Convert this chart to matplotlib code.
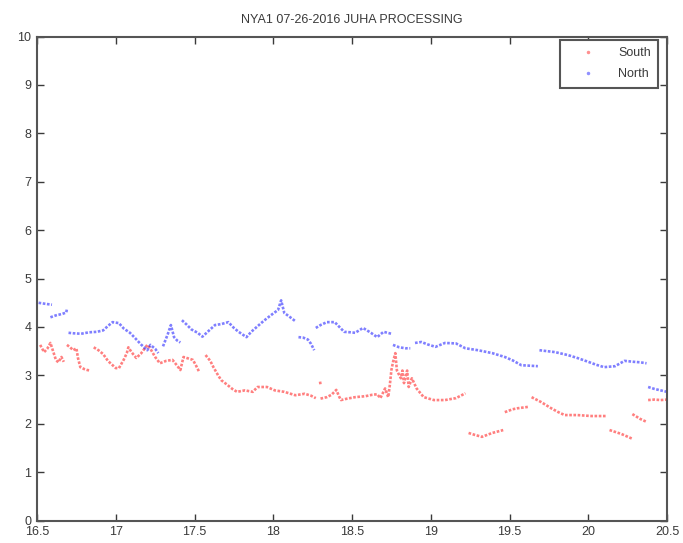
import numpy as np
import matplotlib
matplotlib.use("Agg")
import matplotlib.pyplot as plt

nan = np.nan

## North (blue) - nan marks a gap between runs of points
north_t = [16.51, 16.55, 16.595, nan,
           16.585, 16.62, 16.66, 16.686, 16.69, nan,
           16.70, 16.73, 16.78, 16.83, 16.88, 16.92, 16.95, 16.98, 17.02, 17.05, 17.09,
           17.12, 17.16, 17.20, 17.22, 17.25, 17.27, nan,
           17.30, 17.33, 17.35, 17.37, 17.39, 17.41, nan,
           17.42, 17.45, 17.48, 17.52, 17.55, 17.59, 17.63, 17.67, 17.715, 17.75, 17.78,
           17.83, 17.86, 17.895, 17.93, 17.96, 18.00, 18.03, 18.05, 18.07, 18.10, 18.14, nan,
           18.16, 18.19, 18.22, 18.24, 18.26, nan,
           18.27, 18.30, 18.34, 18.39, 18.42, 18.45, 18.49, 18.52, 18.57, 18.62, 18.66,
           18.70, 18.75, nan,
           18.76, 18.80, 18.84, 18.87, nan,
           18.88, nan,
           18.90, 18.94, 18.98, 19.03, 19.09, 19.16, 19.22, 19.30, 19.39, 19.47, 19.52,
           19.575, 19.63, 19.68, nan,
           19.69, 19.74, 19.79, 19.87, 19.93, 20.00, 20.05, 20.10, 20.17, 20.23, 20.29,
           20.33, 20.37, nan,
           20.38, 20.42, 20.46, 20.50]
north_v = [4.50, 4.48, 4.46, nan,
           4.20, 4.24, 4.27, 4.30, 4.38, nan,
           3.88, 3.87, 3.86, 3.89, 3.90, 3.93, 4.02, 4.10, 4.08, 3.97, 3.88,
           3.78, 3.64, 3.52, 3.63, 3.55, 3.46, nan,
           3.60, 3.85, 4.04, 3.79, 3.72, 3.68, nan,
           4.14, 4.05, 3.95, 3.88, 3.80, 3.92, 4.04, 4.06, 4.10, 3.98, 3.90,
           3.79, 3.90, 4.00, 4.10, 4.18, 4.28, 4.35, 4.55, 4.29, 4.22, 4.12, nan,
           3.79, 3.78, 3.74, 3.65, 3.52, nan,
           3.98, 4.04, 4.10, 4.10, 4.00, 3.90, 3.89, 3.88, 3.98, 3.88, 3.79,
           3.90, 3.86, nan,
           3.63, 3.58, 3.56, 3.56, nan,
           3.79, nan,
           3.67, 3.69, 3.64, 3.59, 3.67, 3.66, 3.56, 3.52, 3.46, 3.38, 3.31,
           3.21, 3.20, 3.19, nan,
           3.52, 3.50, 3.48, 3.42, 3.36, 3.28, 3.22, 3.17, 3.19, 3.30, 3.28,
           3.27, 3.25, nan,
           2.76, 2.72, 2.69, 2.66]

## South (red)
south_t = [16.51, nan,
           16.52, 16.545, 16.565, 16.585, 16.60, 16.62, 16.635, 16.655, 16.67, nan,
           16.69, 16.71, 16.73, 16.75, 16.76, 16.775, 16.80, 16.82, 16.84, nan,
           16.84, nan,
           16.86, 16.89, 16.92, 16.95, 16.98, 17.00, 17.02, 17.05, 17.07, 17.08, 17.10,
           17.13, 17.16, 17.20, 17.22, 17.25, 17.28, 17.32, 17.36, 17.39, 17.41, 17.43,
           17.46, 17.49, 17.51, 17.53, nan,
           17.57, 17.60, 17.62, 17.65, 17.67, 17.71, 17.74, 17.77, 17.82, 17.87, 17.90,
           17.96, 18.01, 18.07, 18.14, 18.20, 18.24, 18.27, nan,
           18.29, 18.31, nan,
           18.30, 18.34, 18.37, 18.40, 18.42, 18.43, 18.47, 18.52, 18.585, 18.63, 18.66,
           18.68, 18.71, 18.73, 18.74, 18.75, 18.76, 18.775, 18.785, 18.81, 18.82, 18.83,
           18.85, 18.86, 18.88, 18.91, 18.955, 19.02, 19.09, 19.16, 19.22, nan,
           19.24, 19.28, 19.325, 19.39, 19.46, nan,
           19.47, 19.52, 19.55, 19.62, nan,
           19.64, 19.70, 19.765, 19.81, 19.85, 19.93, 20.02, 20.11, nan,
           20.135, 20.21, 20.28, nan,
           20.28, 20.33, 20.37, nan,
           20.38, 20.42, 20.46, 20.50]
south_v = [3.96, nan,
           3.63, 3.48, 3.55, 3.67, 3.52, 3.32, 3.27, 3.38, 3.28, nan,
           3.63, 3.58, 3.52, 3.56, 3.36, 3.17, 3.13, 3.11, 3.10, nan,
           2.39, nan,
           3.58, 3.52, 3.44, 3.30, 3.21, 3.15, 3.15, 3.32, 3.46, 3.58, 3.48,
           3.36, 3.45, 3.63, 3.55, 3.38, 3.25, 3.30, 3.32, 3.20, 3.11, 3.38,
           3.35, 3.32, 3.20, 3.07, nan,
           3.42, 3.30, 3.17, 3.00, 2.90, 2.80, 2.72, 2.66, 2.69, 2.66, 2.76,
           2.76, 2.69, 2.66, 2.59, 2.62, 2.58, 2.53, nan,
           2.84, 2.85, nan,
           2.52, 2.55, 2.60, 2.70, 2.55, 2.49, 2.52, 2.55, 2.57, 2.60, 2.61,
           2.53, 2.73, 2.55, 2.80, 3.11, 3.27, 3.46, 3.10, 2.94, 3.10, 2.84,
           3.10, 2.76, 2.94, 2.73, 2.55, 2.49, 2.49, 2.53, 2.63, nan,
           1.81, 1.77, 1.73, 1.81, 1.87, nan,
           2.24, 2.30, 2.32, 2.35, nan,
           2.55, 2.45, 2.32, 2.24, 2.18, 2.18, 2.16, 2.16, nan,
           1.87, 1.79, 1.69, nan,
           2.20, 2.10, 2.04, nan,
           2.49, 2.50, 2.49, 2.50]

x_ticks = [16.5, 17, 17.5, 18, 18.5, 19, 19.5, 20, 20.5]
x_tick_labels = ["16.5", "17", "17.5", "18", "18.5", "19", "19.5", "20", "20.5"]
y_ticks = list(range(0, 11))

plt.rcParams["font.family"] = ["Liberation Sans Narrow", "Liberation Sans", "DejaVu Sans"]
grey = "#3a3a3a"

fig = plt.figure(figsize=(6.83, 5.43), dpi=100)
ax = fig.add_axes([0.0542, 0.0413, 0.9224, 0.8913])

dots = dict(linestyle=(0, (1, 0.6)), linewidth=1.9, alpha=0.5)
ax.plot(south_t, south_v, color="red", **dots)
ax.plot(north_t, north_v, color="blue", **dots)
# legend handles: plain point markers like the original
ax.plot([], [], ".", color="#ff9090", markersize=3, label="South")
ax.plot([], [], ".", color="#9090ff", markersize=3, label="North")

ax.set_xlim(16.5, 20.5)
ax.set_ylim(0, 10)
ax.set_xticks(x_ticks)
ax.set_xticklabels(x_tick_labels)
ax.set_yticks(y_ticks)
ax.tick_params(direction="in", top=True, right=True, length=5, width=1,
               color=grey, labelcolor=grey, labelsize=9)
ax.tick_params(axis="x", pad=4)
ax.tick_params(axis="y", pad=4)
for s in ax.spines.values():
  s.set_color("#555555")
  s.set_linewidth(1.5)

ax.set_title("NYA1 07-26-2016 JUHA PROCESSING", fontsize=9, color=grey, pad=10)

leg = ax.legend(loc="upper right", bbox_to_anchor=(0.986, 0.993), borderaxespad=0,
                fancybox=False, edgecolor="#555555", framealpha=1, fontsize=9,
                handlelength=3.2, handletextpad=0.8, borderpad=0.6, labelspacing=0.7)
leg.get_frame().set_linewidth(1.5)
for t in leg.get_texts():
  t.set_color(grey)

fig.savefig("out.png", dpi=100)
